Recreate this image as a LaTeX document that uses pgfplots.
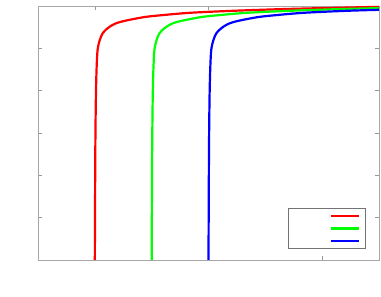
\documentclass[border=0pt]{standalone}
\usepackage{pgfplots}
\pgfplotsset{compat=1.18}
\begin{document}
\begin{tikzpicture}
\begin{axis}[
  scale only axis,
  width=341pt, height=254pt,
  xmin=0.5, xmax=3.5, ymin=0, ymax=6,
  xtick={1,2,3}, ytick={1,2,3,4,5},
  xticklabels={}, yticklabels={},
  tick align=inside,
  major tick length=4pt,
  axis line style={draw=gray!70, line width=0.8pt},
  every tick/.style={draw=gray!80, line width=0.6pt},
  legend plot pos=right,
  legend style={at={(0.962,0.043)}, anchor=south east, draw=gray!90!black, line width=0.7pt,
    font=\footnotesize, row sep=0pt, inner xsep=2pt, inner ysep=1.5pt,
    nodes={inner sep=1pt, text height=8.5pt, text depth=2pt}},
  legend image code/.code={\draw[#1, line width=2.2pt] (0pt,0pt) -- (28pt,0pt); \path (32pt,0pt);},
  legend cell align=right,
]
\addplot[red, line width=2.2pt, smooth] coordinates {
 (1.000,0) (1.004,2.5) (1.009,3.8) (1.015,4.49) (1.024,4.96) (1.044,5.20) (1.07,5.36)
 (1.115,5.48) (1.176,5.58) (1.264,5.65) (1.44,5.74) (1.617,5.79) (1.84,5.84)
 (2.2,5.885) (2.63,5.925) (3.0,5.95) (3.5,5.98)};
\addplot[green, line width=2.2pt, smooth] coordinates {
 (1.500,0) (1.504,2.5) (1.509,3.8) (1.515,4.49) (1.524,4.96) (1.544,5.20) (1.57,5.36)
 (1.615,5.48) (1.676,5.58) (1.764,5.65) (1.94,5.74) (2.117,5.79) (2.34,5.84)
 (2.7,5.885) (3.13,5.925) (3.5,5.95)};
\addplot[blue, line width=2.2pt, smooth] coordinates {
 (2.000,0) (2.004,2.5) (2.009,3.8) (2.015,4.49) (2.024,4.96) (2.044,5.20) (2.07,5.36)
 (2.115,5.48) (2.176,5.58) (2.264,5.65) (2.44,5.74) (2.617,5.79) (2.84,5.84)
 (3.2,5.885) (3.5,5.91)};
\legend{\hspace*{37pt},\hspace*{37pt},\hspace*{37pt}}
\end{axis}
\path[use as bounding box] (current axis.south west) ++(-38pt,-36pt) rectangle ([xshift=2pt,yshift=6pt]current axis.north east);
\end{tikzpicture}
\end{document}
